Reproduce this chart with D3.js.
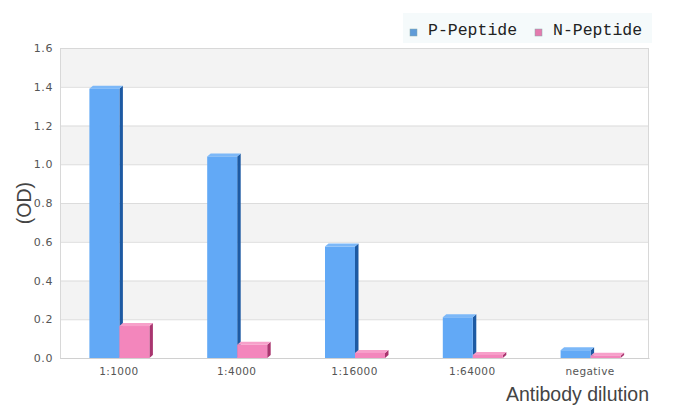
<!DOCTYPE html>
<html><head><meta charset="utf-8">
<script src="https://cdn.jsdelivr.net/npm/d3@7/dist/d3.min.js"></script>
<style>body{margin:0;background:#fff}svg{display:block}</style>
</head><body>
<svg id="c" width="676" height="417"></svg>
<script>
const categories = ["1:1000","1:4000","1:16000","1:64000","negative"];
const seriesNames = ["P-Peptide","N-Peptide"];
const pValues = [1.39, 1.04, 0.575, 0.21, 0.04];
const nValues = [0.165, 0.068, 0.026, 0.016, 0.012];
const yTicks = [0,0.2,0.4,0.6,0.8,1.0,1.2,1.4,1.6];

const colors = [
  {front:"#62a9f6", side:"#1d5aa3", top:"#7cb8f8", legend:"#5f9bd8"},
  {front:"#f386bc", side:"#a9356f", top:"#f7a0ca", legend:"#e47aae"}
];

const svg = d3.select("#c");
const m = {l:60, r:649, t:48, b:358};
const x = d3.scaleBand().domain(categories).range([m.l, m.r]);
const y = d3.scaleLinear().domain([0,1.6]).range([m.b, m.t]);
const barW = 30, dx = 3.5, dy = 3;

// alternating bands (top band gray)
const bands = svg.append("g");
for (let i = 0; i < yTicks.length-1; i++) {
  bands.append("rect").attr("x", m.l).attr("width", m.r-m.l)
    .attr("y", y(yTicks[i+1])).attr("height", y(yTicks[i])-y(yTicks[i+1]))
    .attr("fill", (yTicks.length-2-i) % 2 === 0 ? "#f3f3f3" : "#ffffff");
}

// grid lines + y labels
const yAxis = d3.axisLeft(y).tickValues(yTicks).tickFormat(d3.format(".1f")).tickSize(-(m.r-m.l)).tickPadding(7);
const gy = svg.append("g").attr("transform", `translate(${m.l},0)`).call(yAxis);
gy.select(".domain").remove();
gy.selectAll(".tick line").attr("stroke", "#dcdcdc");
gy.selectAll(".tick text").attr("fill", "#555").style("font-family","DejaVu Sans").style("font-size","11px").style("letter-spacing","0.6px");

// border
svg.append("rect").attr("x", m.l+0.5).attr("y", m.t+0.5).attr("width", m.r-m.l-1).attr("height", m.b-m.t)
  .attr("fill","none").attr("stroke","#d8d8d8");

// bars
const series = [pValues, nValues];
series.forEach((vals, s) => {
  const g = svg.append("g");
  vals.forEach((v, i) => {
    const cx = x(categories[i]) + x.bandwidth()/2 + 0.5;
    const x0 = cx - barW + s*barW;
    const y0 = y(v), yb = y(0);
    const c = colors[s];
    g.append("path").attr("d", `M${x0+barW},${y0} L${x0+barW+dx},${y0-dy} L${x0+barW+dx},${yb-dy} L${x0+barW},${yb} Z`).attr("fill", c.side);
    g.append("path").attr("d", `M${x0},${y0} L${x0+dx},${y0-dy} L${x0+barW+dx},${y0-dy} L${x0+barW},${y0} Z`).attr("fill", c.top);
    g.append("rect").attr("x", x0).attr("y", y0).attr("width", barW).attr("height", yb-y0).attr("fill", c.front);
  });
});

// x axis labels
const xAxis = d3.axisBottom(x).tickSize(0).tickPadding(10);
const gx = svg.append("g").attr("transform", `translate(0,${m.b})`).call(xAxis);
gx.select(".domain").attr("stroke","#d0d0d0");
gx.selectAll(".tick text").attr("fill","#555").style("font-family","DejaVu Sans").style("font-size","10.5px").style("letter-spacing","0.4px");

// axis titles
svg.append("text").attr("x", 649).attr("y", 401).attr("text-anchor","end")
  .style("font-family","Liberation Sans").style("font-size","19.5px").attr("fill","#444").text("Antibody dilution");
svg.append("text").attr("transform", `translate(31,${(m.t+m.b)/2}) rotate(-90)`).attr("text-anchor","middle")
  .style("font-family","Liberation Sans").style("font-size","19.5px").attr("fill","#444").text("(OD)");

// legend
const lg = svg.append("g");
lg.append("rect").attr("x", 403).attr("y", 13).attr("width", 249).attr("height", 30).attr("fill", "#f5fafb");
const lx = [410, 535];
seriesNames.forEach((n, i) => {
  lg.append("rect").attr("x", lx[i]).attr("y", 29).attr("width", 7).attr("height", 7)
    .attr("fill", colors[i].legend).attr("stroke", "#8aa").attr("stroke-width", 0.5);
  lg.append("text").attr("x", lx[i] + 18).attr("y", 35).style("font-family","Liberation Mono")
    .style("font-size","16.5px").attr("fill","#222").text(n);
});
</script>
</body></html>
